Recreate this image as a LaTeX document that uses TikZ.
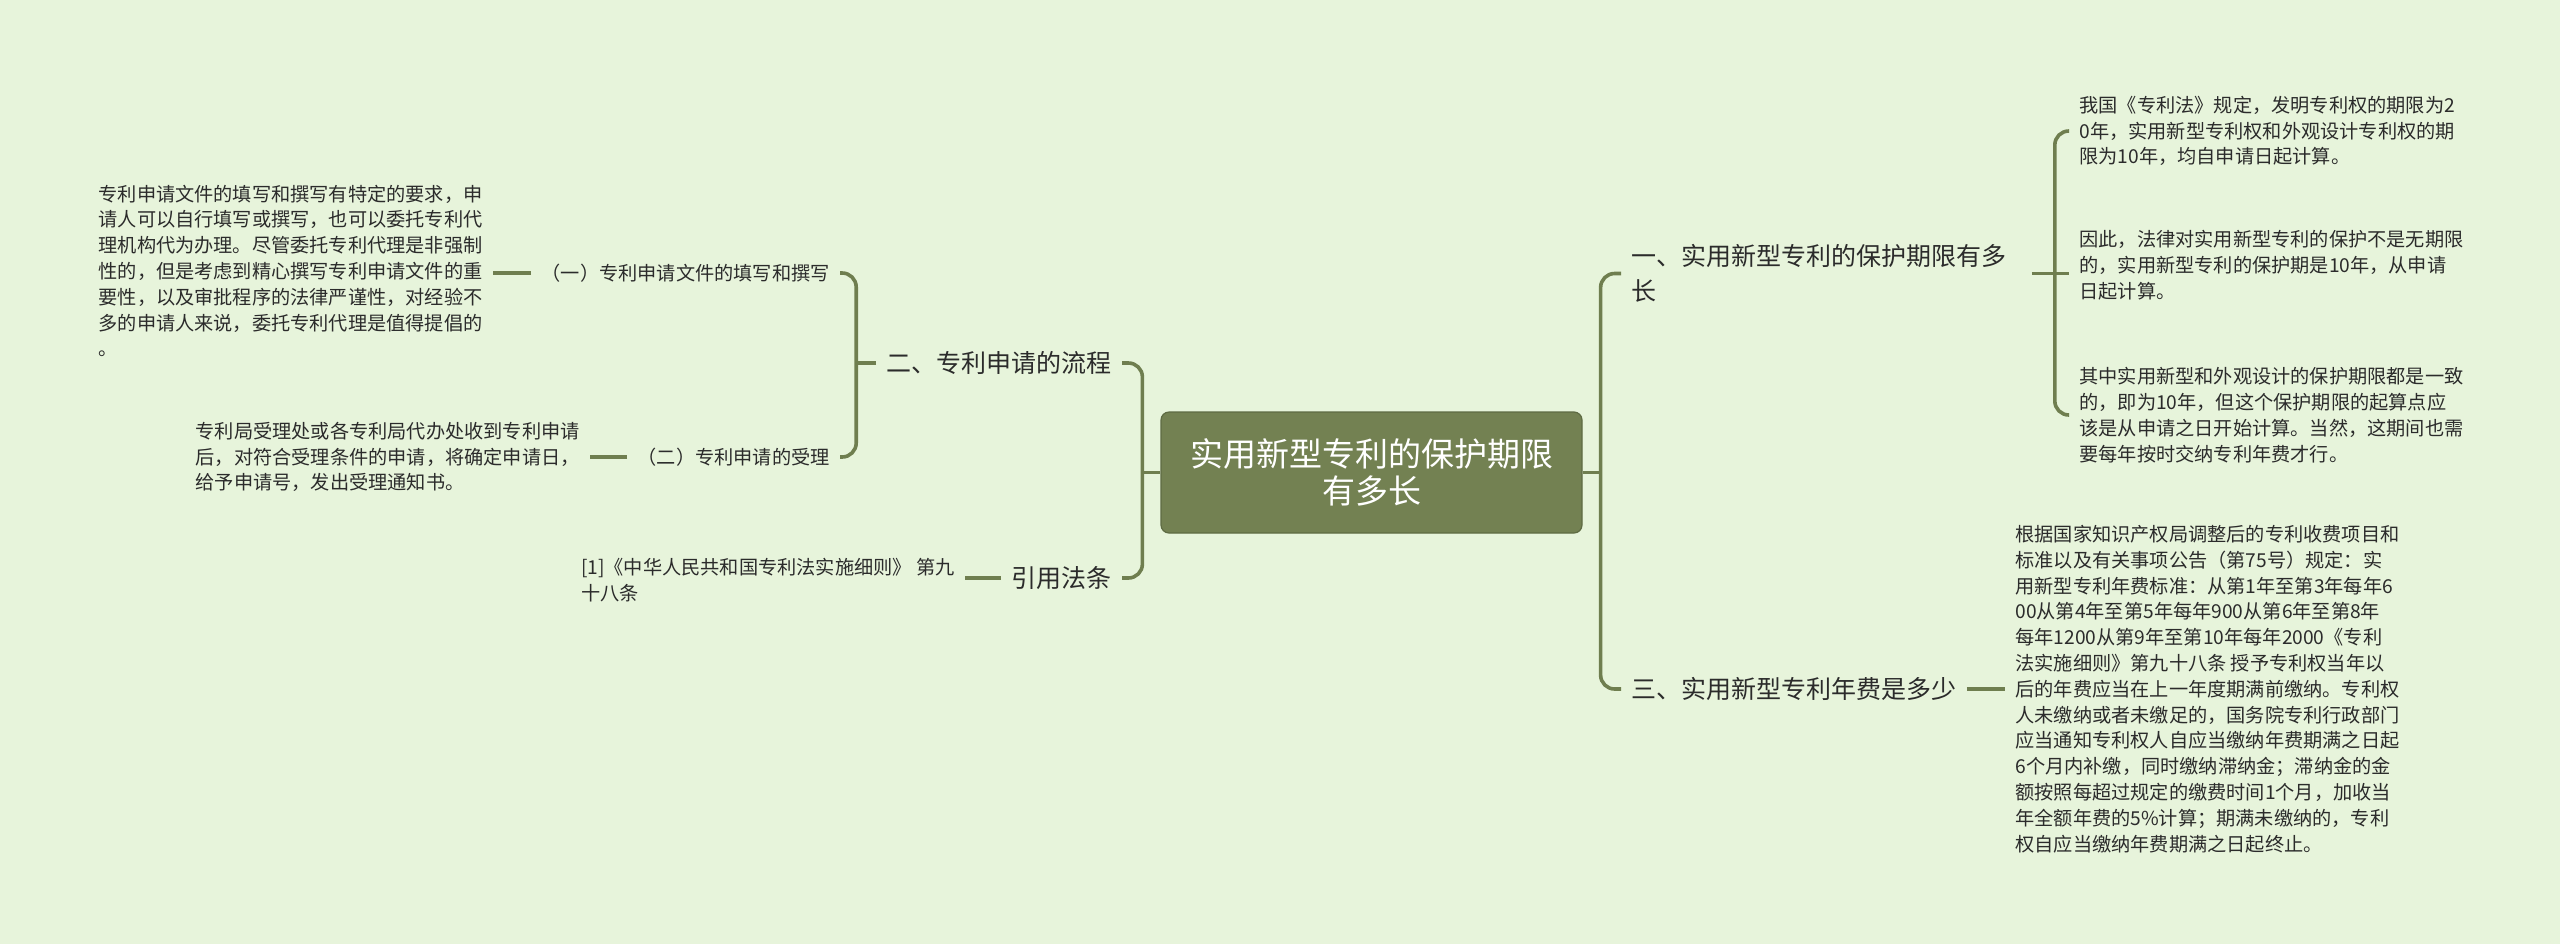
\documentclass[tikz,border=0pt]{standalone}
\usepackage{fontspec}
\setmainfont{Noto Sans CJK SC}
\usetikzlibrary{positioning,calc}
\definecolor{mmbg}{HTML}{E7F4DB}
\definecolor{mmline}{HTML}{6F7E4F}
\definecolor{mmroot}{HTML}{738152}
\definecolor{mmtext}{HTML}{2B2B2B}

\begin{document}
\begin{tikzpicture}[x=0.5pt,y=-0.5pt,
  link/.style={draw=mmline, line width=1.8pt, rounded corners=7pt},
  rootbox/.style={draw=mmline!85!black, line width=0.6pt, fill=mmroot, rounded corners=4pt,
    text=white, font=\fontsize{16.5}{18.5}\selectfont, align=center,
    minimum width=210.5pt, minimum height=60.5pt},
  branch/.style={text=mmtext, font=\fontsize{12.5}{17.5}\selectfont, inner xsep=5pt, inner ysep=2pt, align=left},
  leaf/.style={text=mmtext, font=\fontsize{9.6}{12.9}\selectfont, inner xsep=5pt, inner ysep=2pt, align=left},
]
\fill[mmbg] (0,0) rectangle (2560,944);
\useasboundingbox (0,0) rectangle (2560,944);

% root
\node[rootbox] (root) at (1371.5,472.5) {实用新型专利的保护期限\\有多长};

% left side
\node[branch, anchor=east] (l1) at (1122,363) {二、专利申请的流程};
\node[branch, anchor=east] (l2) at (1122,578) {引用法条};
\node[leaf, anchor=east] (a1) at (840,273) {（一）专利申请文件的填写和撰写};
\node[leaf, anchor=east] (a2) at (840,457) {（二）专利申请的受理};
\node[leaf, anchor=east] (t1) at (493,271) {专利申请文件的填写和撰写有特定的要求，申\\请人可以自行填写或撰写，也可以委托专利代\\理机构代为办理。尽管委托专利代理是非强制\\性的，但是考虑到精心撰写专利申请文件的重\\要性，以及审批程序的法律严谨性，对经验不\\多的申请人来说，委托专利代理是值得提倡的\\。};
\node[leaf, anchor=east] (t2) at (590,457) {专利局受理处或各专利局代办处收到专利申请\\后，对符合受理条件的申请，将确定申请日，\\给予申请号，发出受理通知书。};
\node[leaf, anchor=east] (ref) at (965,580.5) {[1]《中华人民共和国专利法实施细则》 第九\\十八条};

% right side
\node[branch, anchor=west, text width=195pt] (r1) at (1621,273.5) {一、实用新型专利的保护期限有多\\长};
\node[branch, anchor=west] (r2) at (1621,689) {三、实用新型专利年费是多少};
\node[leaf, anchor=west] (ra) at (2069,131) {我国《专利法》规定，发明专利权的期限为2\\0年，实用新型专利权和外观设计专利权的期\\限为10年，均自申请日起计算。};
\node[leaf, anchor=west] (rb) at (2069,265) {因此，法律对实用新型专利的保护不是无期限\\的，实用新型专利的保护期是10年，从申请\\日起计算。};
\node[leaf, anchor=west] (rc) at (2069,415) {其中实用新型和外观设计的保护期限都是一致\\的，即为10年，但这个保护期限的起算点应\\该是从申请之日开始计算。当然，这期间也需\\要每年按时交纳专利年费才行。};
\node[leaf, anchor=west] (td) at (2005,689) {根据国家知识产权局调整后的专利收费项目和\\标准以及有关事项公告（第75号）规定：实\\用新型专利年费标准：从第1年至第3年每年6\\00从第4年至第5年每年900从第6年至第8年\\每年1200从第9年至第10年每年2000《专利\\法实施细则》第九十八条 授予专利权当年以\\后的年费应当在上一年度期满前缴纳。专利权\\人未缴纳或者未缴足的，国务院专利行政部门\\应当通知专利权人自应当缴纳年费期满之日起\\6个月内补缴，同时缴纳滞纳金；滞纳金的金\\额按照每超过规定的缴费时间1个月，加收当\\年全额年费的5\%计算；期满未缴纳的，专利\\权自应当缴纳年费期满之日起终止。};

% hubs
\coordinate (lhub) at ([xshift=-9pt]root.west);
\coordinate (rhub) at ([xshift=9pt]root.east);
\coordinate (l1hub) at ([xshift=-10pt]l1.west);
\coordinate (r1hub) at ([xshift=11.5pt]r1.east);

% connectors
\draw[link] (root.west) -- (lhub);
\draw[link] (l1.east) -| (lhub) |- (l2.east);
\draw[link] (root.east) -- (rhub);
\draw[link] (r1.west) -| (rhub) |- (r2.west);
\draw[link] (l1.west) -- (l1hub);
\draw[link] (a1.east) -| (l1hub) |- (a2.east);
\draw[link] (r1.east) -- (r1hub);
\draw[link] (ra.west) -| (r1hub) |- (rc.west);
\draw[link] (r1hub) -- (r1hub -| rb.west);
\draw[link] (a1.west) -- (a1.west -| t1.east);
\draw[link] (a2.west) -- (t2.east);
\draw[link] (l2.west) -- (l2.west -| ref.east);
\draw[link] (r2.east) -- (td.west);
\end{tikzpicture}
\end{document}
